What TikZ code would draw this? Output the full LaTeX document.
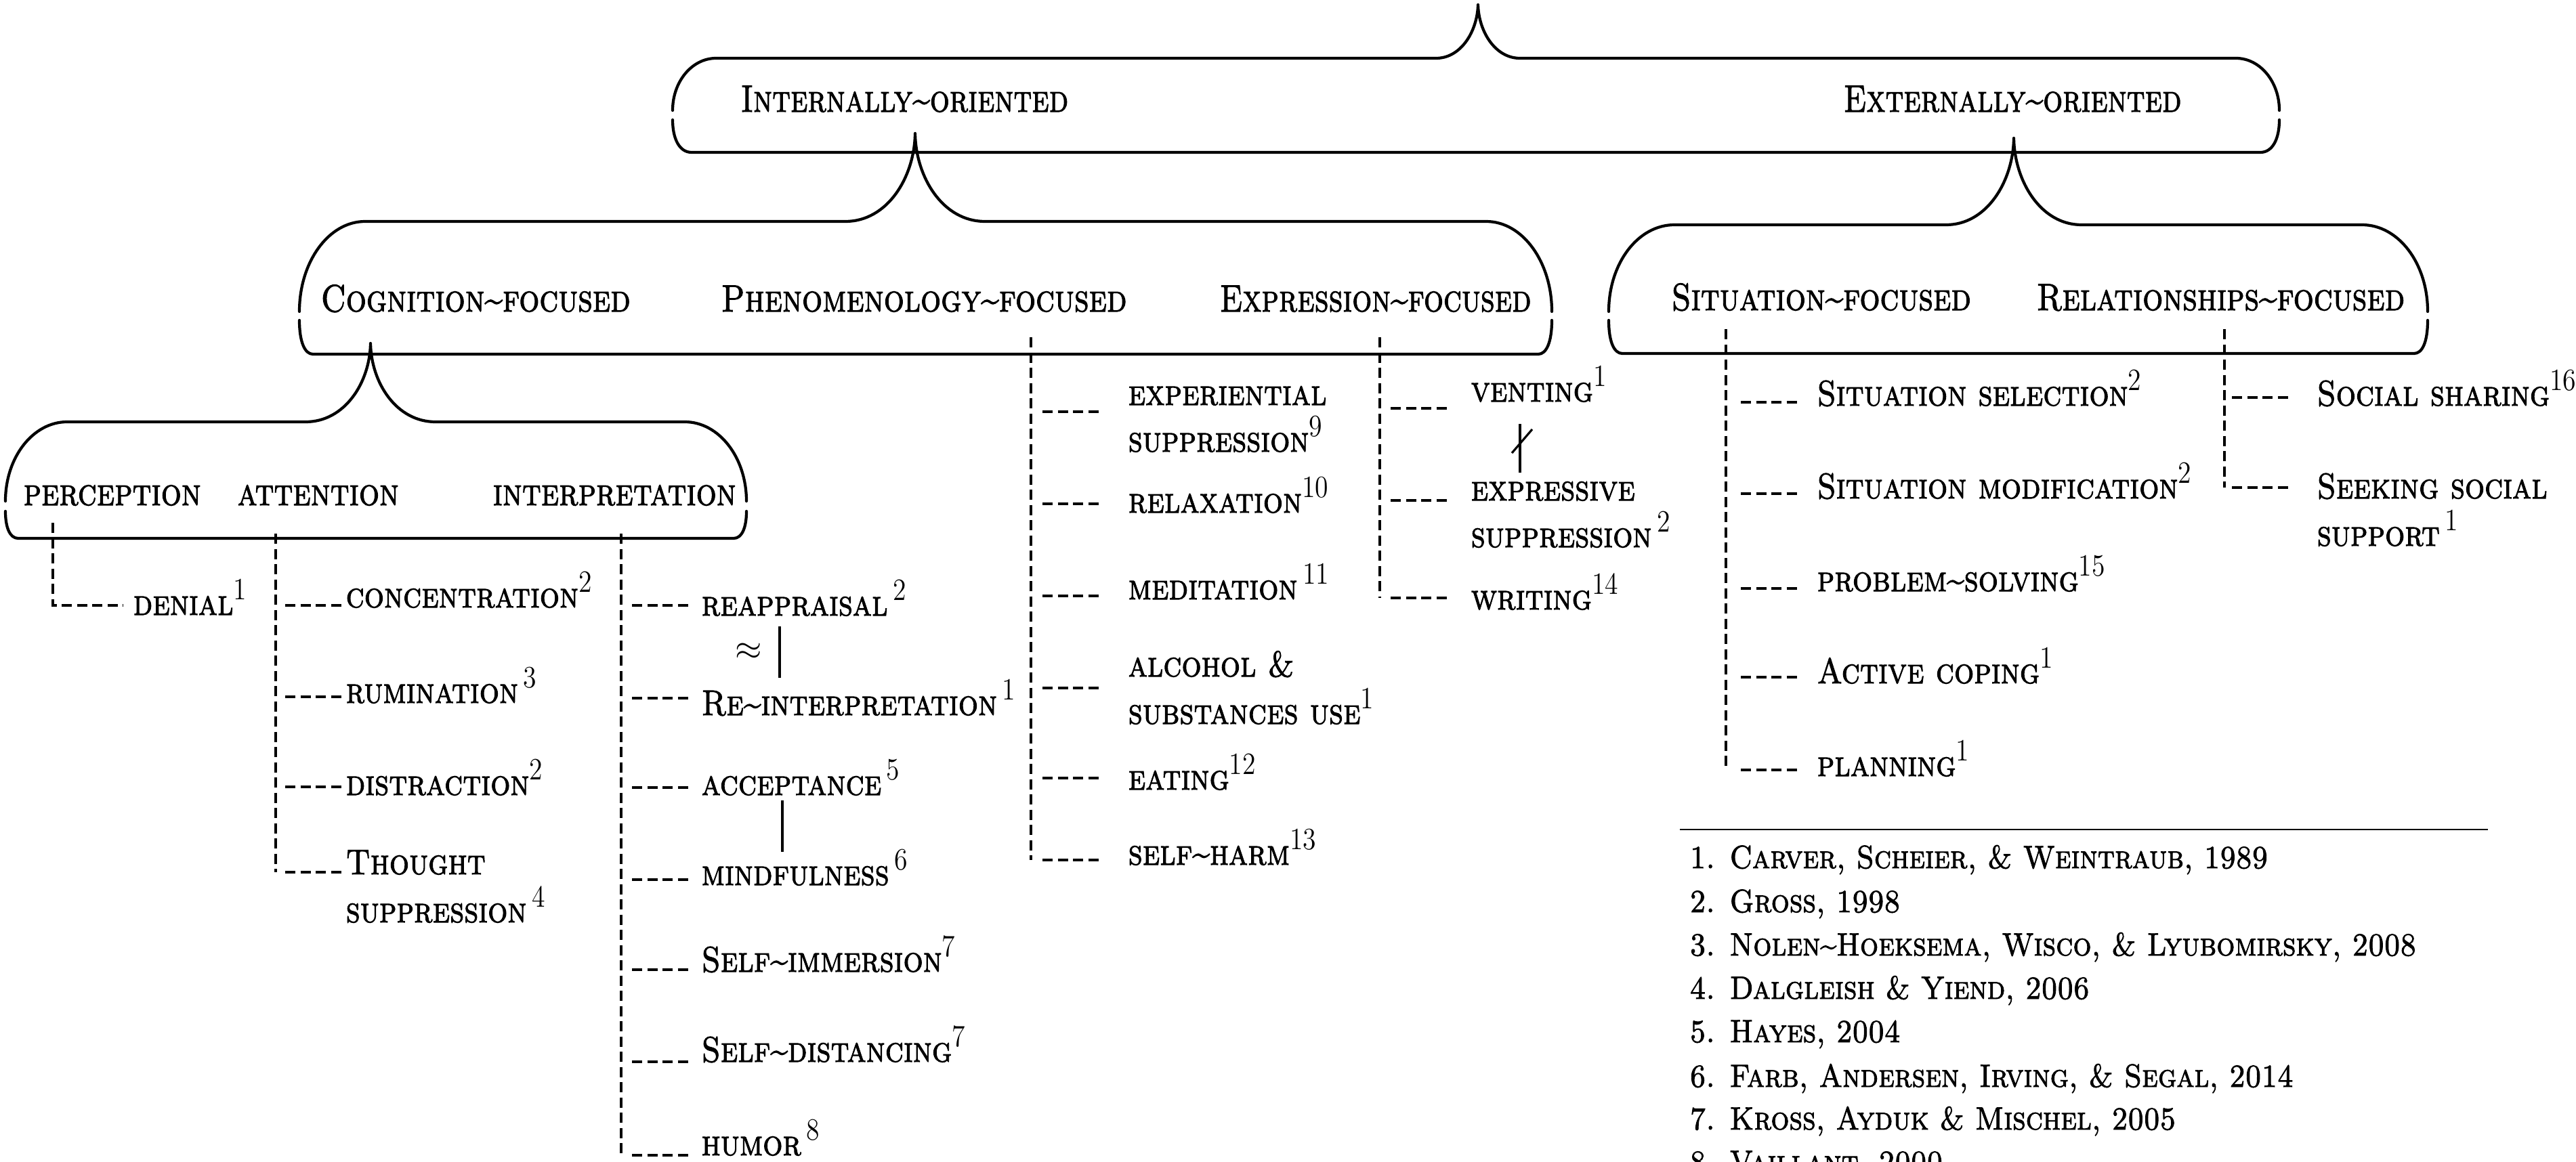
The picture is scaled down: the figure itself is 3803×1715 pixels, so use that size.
\documentclass[tikz,border=0pt]{standalone}
\usepackage{fontspec}
\usepackage{graphicx}
\newfontfamily\dispf{lmroman10-regular.otf}[SmallCapsFont=lmromancaps10-regular.otf, SmallCapsFeatures={FakeBold=2}, FakeBold=2]
\newcommand{\tld}{\textasciitilde}
\newcommand{\supn}[1]{\raisebox{6.5pt}{\normalfont\fontsize{13}{13}\selectfont #1}}
\newcommand{\hsa}[1]{\scalebox{0.81}[1]{#1}}
\newcommand{\hs}[1]{\scalebox{0.84}[1]{#1}}
\newcommand{\hsl}[1]{\scalebox{0.87}[1]{#1}}
\newcommand{\hsr}[1]{\scalebox{0.9}[1]{#1}}
\begin{document}
\begin{tikzpicture}[x=0.01cm,y=-0.01cm,
  brc/.style={line width=1.2pt, line cap=round, line join=round},
  dl/.style={line width=0.9pt, dash pattern=on 4.3pt off 2.1pt},
  bar/.style={line width=0.9pt},
  lbl/.style={anchor=base west, inner sep=0pt, font={\dispf\fontsize{16}{19}\selectfont\scshape}},
  leaf/.style={anchor=base west, inner sep=0pt, font={\dispf\fontsize{15}{18}\selectfont\scshape}},
  refx/.style={anchor=base west, inner sep=0pt, font={\dispf\fontsize{13.5}{16}\selectfont\scshape}}]
\fill[white] (0,0) rectangle (3803,1715);
\useasboundingbox (0,0) rectangle (3803,1715);

% ---------- containers ----------
% level 1
\draw[brc] (993,163) .. controls (993,120) and (1022,86) .. (1057,86) -- (2120,86)
  .. controls (2157,86) and (2181,46) .. (2182,7)
  .. controls (2183,46) and (2207,86) .. (2244,86) -- (3301,86)
  .. controls (3336,86) and (3365,120) .. (3365,163);
\draw[brc] (993,177) .. controls (993,205) and (1003,225) .. (1021,225) -- (3337,225)
  .. controls (3355,225) and (3365,205) .. (3365,177);
% level 2 left
\draw[brc] (442,460) .. controls (442,387) and (485,327) .. (539,327) -- (1248,327)
  .. controls (1310,327) and (1350,262) .. (1351,197)
  .. controls (1352,262) and (1392,327) .. (1454,327) -- (2194,327)
  .. controls (2248,327) and (2291,387) .. (2291,460);
\draw[brc] (442,473) .. controls (442,505) and (450,523) .. (462,523) -- (2271,523)
  .. controls (2283,523) and (2291,505) .. (2291,473);
% level 2 right
\draw[brc] (2375,460) .. controls (2375,389) and (2418,332) .. (2472,332) -- (2873,332)
  .. controls (2933,332) and (2972,268) .. (2973,204)
  .. controls (2974,268) and (3013,332) .. (3073,332) -- (3487,332)
  .. controls (3541,332) and (3584,389) .. (3584,460);
\draw[brc] (2375,473) .. controls (2375,505) and (2383,522) .. (2395,522) -- (3564,522)
  .. controls (3576,522) and (3584,505) .. (3584,473);
% level 3 (cognition)
\draw[brc] (8,740) .. controls (8,675) and (49,623) .. (99,623) -- (451,623)
  .. controls (509,623) and (546,565) .. (547,507)
  .. controls (548,565) and (585,623) .. (643,623) -- (1011,623)
  .. controls (1061,623) and (1102,675) .. (1102,740);
\draw[brc] (8,755) .. controls (8,780) and (15,795) .. (27,795) -- (1083,795)
  .. controls (1095,795) and (1102,780) .. (1102,755);

% ---------- category labels ----------
\node[lbl] (int) at (1093,165) {\hsa{Internally\tld oriented}};
\node[lbl] (ext) at (2721,165) {\hsa{Externally\tld oriented}};
\node[lbl] (cog) at (473,460) {\hs{Cognition\tld focused}};
\node[lbl] (phen) at (1064,460) {\hs{Phenomenology\tld focused}};
\node[lbl] (expr) at (1800,460) {\hsa{Expression\tld focused}};
\node[lbl] (sit) at (2467,458) {\hs{Situation\tld focused}};
\node[lbl] (rel) at (3006,458) {\hs{Relationships\tld focused}};
\node[lbl] (perc) at (34,746) {\hs{perception}};
\node[lbl] (att) at (350,746) {\hs{attention}};
\node[lbl] (interp) at (727,746) {\hs{interpretation}};

% ---------- perception ----------
\draw[dl] (78,772) -- (78,894) -- (182,894);
\node[leaf] (denial) at (196,908) {\hsl{denial\supn{1}}};

% ---------- attention ----------
\draw[dl] (407,788) -- (407,1288);
\foreach \yy in {894,1029,1162,1288} \draw[dl] (421,\yy) -- (507,\yy);
\node[leaf] (conc) at (510,897) {\hsl{concentration\supn{2}}};
\node[leaf] (rum) at (510,1038) {\hsl{rumination\,\supn{3}}};
\node[leaf] (dist) at (510,1174) {\hsl{distraction\supn{2}}};
\node[leaf] (thou) at (510,1291) {\hsl{Thought}};
\node[leaf] (thou2) at (510,1362) {\hsl{suppression\,\supn{4}}};

% ---------- interpretation ----------
\draw[dl] (917,788) -- (917,1706);
\foreach \yy in {894,1031,1163,1299,1432,1568,1706} \draw[dl] (933,\yy) -- (1019,\yy);
\node[leaf] (reap) at (1035,909) {\hsl{reappraisal\,\supn{2}}};
\node[leaf] (rein) at (1035,1056) {\hsl{Re\tld interpretation\,\supn{1}}};
\node[leaf] (acc) at (1035,1174) {\hsl{acceptance\,\supn{5}}};
\node[leaf] (mind) at (1035,1307) {\hsl{mindfulness\,\supn{6}}};
\node[leaf] (simm) at (1035,1435) {\hsl{Self\tld immersion\supn{7}}};
\node[leaf] (sdis) at (1035,1568) {\hsl{Self\tld distancing\supn{7}}};
\node[leaf] (hum) at (1035,1706) {\hsl{humor\,\supn{8}}};
\node[font=\fontsize{15}{18}\selectfont] (approx) at (1105,962) {$\approx$};
\draw[bar] (1151,925) -- (1151,1001);
\draw[bar] (1155,1182) -- (1155,1258);

% ---------- phenomenology ----------
\draw[dl] (1522,498) -- (1522,1270);
\foreach \yy in {608,744,880,1016,1149,1270} \draw[dl] (1539,\yy) -- (1629,\yy);
\node[leaf] (exp1) at (1665,598) {\hsl{experiential}};
\node[leaf] (exp2) at (1665,667) {\hsl{suppression\supn{9}}};
\node[leaf] (rel1) at (1665,757) {\hsl{relaxation\supn{10}}};
\node[leaf] (med) at (1665,885) {\hsl{meditation\,\supn{11}}};
\node[leaf] (alc1) at (1665,999) {\hsl{alcohol \&}};
\node[leaf] (alc2) at (1665,1069) {\hsl{substances use\supn{1}}};
\node[leaf] (eat) at (1665,1166) {\hsl{eating\supn{12}}};
\node[leaf] (harm) at (1665,1277) {\hsl{self\tld harm\supn{13}}};

% ---------- expression ----------
\draw[dl] (2037,498) -- (2037,883);
\foreach \yy in {603,739,883} \draw[dl] (2053,\yy) -- (2139,\yy);
\node[leaf] (vent) at (2171,593) {\hsl{venting\supn{1}}};
\node[leaf] (esup1) at (2171,739) {\hsl{expressive}};
\node[leaf] (esup2) at (2171,808) {\hsl{suppression\,\supn{2}}};
\node[leaf] (writ) at (2171,900) {\hsl{writing\supn{14}}};
\draw[bar] (2244,626) -- (2244,698);
\draw[bar] (2232,669) -- (2262,634);

% ---------- situation ----------
\draw[dl] (2548,486) -- (2548,1137);
\foreach \yy in {594,729,869,1000,1137} \draw[dl] (2570,\yy) -- (2655,\yy);
\node[leaf] (ssel) at (2682,599) {\hsl{Situation selection\supn{2}}};
\node[leaf] (smod) at (2682,736) {\hsl{Situation modification\supn{2}}};
\node[leaf] (prob) at (2682,873) {\hsl{problem\tld solving\supn{15}}};
\node[leaf] (act) at (2682,1009) {\hsl{Active coping\supn{1}}};
\node[leaf] (plan) at (2682,1146) {\hsl{planning\supn{1}}};

% ---------- relationships ----------
\draw[dl] (3284,486) -- (3284,720);
\foreach \yy in {587,720} \draw[dl] (3295,\yy) -- (3384,\yy);
\node[leaf] (soc) at (3420,599) {\hsl{Social sharing\supn{16}}};
\node[leaf] (seek1) at (3420,736) {\hsl{Seeking social}};
\node[leaf] (seek2) at (3420,806) {\hsl{support\,\supn{1}}};

% ---------- references ----------
\draw[line width=0.5pt] (2480,1225) -- (3673,1225);
\node[refx] (r1) at (2494,1282) {\hsr{1. Carver, Scheier, \& Weintraub, 1989}};
\node[refx] (r2) at (2494,1347) {\hsr{2. Gross, 1998}};
\node[refx] (r3) at (2494,1411) {\hsr{3. Nolen\tld Hoeksema, Wisco, \& Lyubomirsky, 2008}};
\node[refx] (r4) at (2494,1475) {\hsr{4. Dalgleish \& Yiend, 2006}};
\node[refx] (r5) at (2494,1539) {\hsr{5. Hayes, 2004}};
\node[refx] (r6) at (2494,1605) {\hsr{6. Farb, Andersen, Irving, \& Segal, 2014}};
\node[refx] (r7) at (2494,1668) {\hsr{7. Kross, Ayduk \& Mischel, 2005}};
\node[refx] (r8) at (2494,1732) {\hsr{8. Vaillant, 2000}};
\end{tikzpicture}
\end{document}
